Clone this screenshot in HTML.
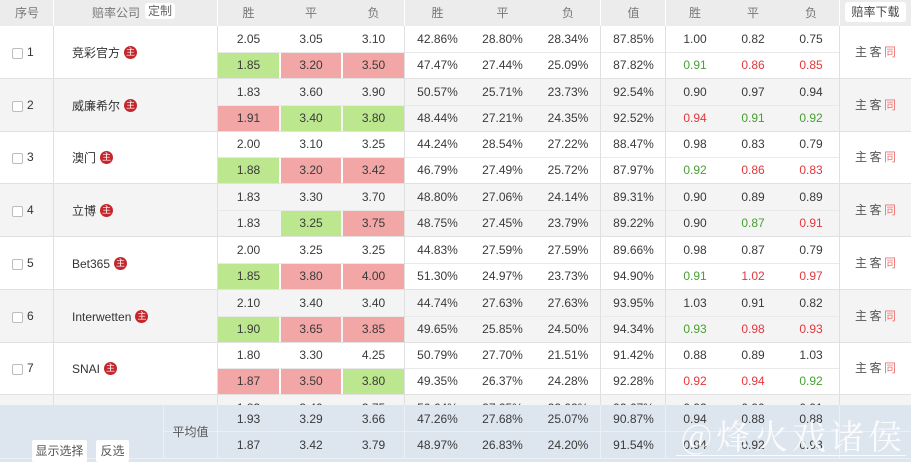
<!DOCTYPE html>
<html><head><meta charset="utf-8">
<style>
*{margin:0;padding:0;box-sizing:border-box}
html,body{width:911px;height:462px;overflow:hidden;background:#fff}
body{position:relative;font-family:"Liberation Sans","Noto Sans CJK SC",sans-serif;font-size:12px;color:#3a3a3a}
.hd{position:absolute;left:0;top:0;width:911px;height:26px;background:#ececec;color:#777}
.hd div{position:absolute;top:0;height:26px;line-height:26px;text-align:center}
.vl{position:absolute;width:1px;background:#fff}
.btn{position:absolute;background:#fff;border-radius:3px;text-align:center;color:#555}
.g{position:absolute;left:0;width:911px;height:53px;border-bottom:1px solid #e1e1e1}
.g.e{background:#f4f4f4}
.g .sl{position:absolute;left:218px;width:622px;top:26px;height:1px;background:#e9e9e9}
.g .v{position:absolute;top:0;bottom:0;width:1px;background:#e0e0e0}
.g .c{position:absolute;text-align:center}
.a{top:0;height:26px;line-height:27px}
.b{top:27px;height:25px;line-height:25px}
.c1{left:218px;width:61px}.c2{left:281px;width:60px}.c3{left:343px;width:61px}
.p1{left:405px;width:65px}.p2{left:470px;width:65px}.p3{left:535px;width:66px}.p4{left:601px;width:65px}
.k1{left:666px;width:58px}.k2{left:724px;width:58px}.k3{left:782px;width:58px}
.G{background:#bce78f}.R{background:#f3a6a6}
.tg{color:#46a031}.tr{color:#e2383d}
.cb{position:absolute;left:12px;top:22px;width:11px;height:11px;border:1px solid #bdbdbd;border-radius:2px;background:#fff}
.no{position:absolute;left:27px;top:19px;line-height:14px;color:#333}
.nm{position:absolute;left:72px;top:0;height:53px;display:flex;align-items:center;color:#333}
.bd{display:inline-block;width:13px;height:13px;border-radius:50%;background:#c4262b;color:#fff;font-size:9px;line-height:13px;text-align:center;font-style:normal;margin-left:4px}
.zk{position:absolute;left:855px;top:0;height:53px;line-height:53px;color:#555;letter-spacing:2.5px}
.zk span{color:#ef7474}
.ft{position:absolute;left:0;top:405px;width:911px;height:57px;background:#dde5ee;z-index:5}
.ft .fv{position:absolute;top:0;height:53px;width:1px;background:#ebf0f5}
.ft .fh{position:absolute;left:163px;width:748px;height:1px;background:#ebf0f5}
.ft .c{position:absolute;text-align:center}
.ft .a{top:0;height:26px;line-height:28px}
.ft .b{top:27px;height:26px;line-height:26px}
.wm{position:absolute;left:681px;top:414px;width:230px;height:42px;z-index:9;color:rgba(255,255,255,0.85);font-family:"Noto Serif CJK SC","WenQuanYi Zen Hei",serif;font-size:34px;line-height:42px;letter-spacing:4px;white-space:nowrap}
.wl{position:absolute;left:676px;top:455px;width:230px;height:1px;background:rgba(255,255,255,0.85);z-index:9}
</style></head><body>

<div class="hd">
<div style="left:0;width:54px">序号</div>
<div style="left:86px;width:60px">赔率公司</div>
<div class="btn" style="left:145px;top:3px;width:30px;height:16px;line-height:16px;color:#666">定制</div>
<div style="left:218px;width:61px">胜</div>
<div style="left:281px;width:60px">平</div>
<div style="left:343px;width:61px">负</div>
<div style="left:405px;width:65px">胜</div>
<div style="left:470px;width:65px">平</div>
<div style="left:535px;width:66px">负</div>
<div style="left:601px;width:65px">值</div>
<div style="left:666px;width:58px">胜</div>
<div style="left:724px;width:58px">平</div>
<div style="left:782px;width:58px">负</div>
<div class="btn" style="left:845px;top:2px;width:61px;height:20px;line-height:20px;color:#444">赔率下载</div>
<span class="vl" style="left:53px;top:0;height:26px"></span>
<span class="vl" style="left:217px;top:0;height:26px"></span>
<span class="vl" style="left:404px;top:0;height:26px"></span>
<span class="vl" style="left:600px;top:0;height:26px"></span>
<span class="vl" style="left:665px;top:0;height:26px"></span>
<span class="vl" style="left:839px;top:0;height:26px"></span>
</div>

<!-- group 1 -->
<div class="g" style="top:26px">
<span class="sl"></span><span class="v" style="left:53px"></span><span class="v" style="left:217px"></span><span class="v" style="left:404px"></span><span class="v" style="left:600px"></span><span class="v" style="left:665px"></span><span class="v" style="left:839px"></span>
<span class="cb"></span><span class="no">1</span><span class="nm">竞彩官方<i class="bd">主</i></span>
<div class="c a c1">2.05</div><div class="c a c2">3.05</div><div class="c a c3">3.10</div>
<div class="c b c1 G">1.85</div><div class="c b c2 R">3.20</div><div class="c b c3 R">3.50</div>
<div class="c a p1">42.86%</div><div class="c a p2">28.80%</div><div class="c a p3">28.34%</div><div class="c a p4">87.85%</div>
<div class="c b p1">47.47%</div><div class="c b p2">27.44%</div><div class="c b p3">25.09%</div><div class="c b p4">87.82%</div>
<div class="c a k1">1.00</div><div class="c a k2">0.82</div><div class="c a k3">0.75</div>
<div class="c b k1 tg">0.91</div><div class="c b k2 tr">0.86</div><div class="c b k3 tr">0.85</div>
<span class="zk">主客<span>同</span></span>
</div>

<!-- group 2 -->
<div class="g e" style="top:79px">
<span class="sl"></span><span class="v" style="left:53px"></span><span class="v" style="left:217px"></span><span class="v" style="left:404px"></span><span class="v" style="left:600px"></span><span class="v" style="left:665px"></span><span class="v" style="left:839px"></span>
<span class="cb"></span><span class="no">2</span><span class="nm">威廉希尔<i class="bd">主</i></span>
<div class="c a c1">1.83</div><div class="c a c2">3.60</div><div class="c a c3">3.90</div>
<div class="c b c1 R">1.91</div><div class="c b c2 G">3.40</div><div class="c b c3 G">3.80</div>
<div class="c a p1">50.57%</div><div class="c a p2">25.71%</div><div class="c a p3">23.73%</div><div class="c a p4">92.54%</div>
<div class="c b p1">48.44%</div><div class="c b p2">27.21%</div><div class="c b p3">24.35%</div><div class="c b p4">92.52%</div>
<div class="c a k1">0.90</div><div class="c a k2">0.97</div><div class="c a k3">0.94</div>
<div class="c b k1 tr">0.94</div><div class="c b k2 tg">0.91</div><div class="c b k3 tg">0.92</div>
<span class="zk">主客<span>同</span></span>
</div>

<!-- group 3 -->
<div class="g" style="top:131px">
<span class="sl"></span><span class="v" style="left:53px"></span><span class="v" style="left:217px"></span><span class="v" style="left:404px"></span><span class="v" style="left:600px"></span><span class="v" style="left:665px"></span><span class="v" style="left:839px"></span>
<span class="cb"></span><span class="no">3</span><span class="nm">澳门<i class="bd">主</i></span>
<div class="c a c1">2.00</div><div class="c a c2">3.10</div><div class="c a c3">3.25</div>
<div class="c b c1 G">1.88</div><div class="c b c2 R">3.20</div><div class="c b c3 R">3.42</div>
<div class="c a p1">44.24%</div><div class="c a p2">28.54%</div><div class="c a p3">27.22%</div><div class="c a p4">88.47%</div>
<div class="c b p1">46.79%</div><div class="c b p2">27.49%</div><div class="c b p3">25.72%</div><div class="c b p4">87.97%</div>
<div class="c a k1">0.98</div><div class="c a k2">0.83</div><div class="c a k3">0.79</div>
<div class="c b k1 tg">0.92</div><div class="c b k2 tr">0.86</div><div class="c b k3 tr">0.83</div>
<span class="zk">主客<span>同</span></span>
</div>

<!-- group 4 -->
<div class="g e" style="top:184px">
<span class="sl"></span><span class="v" style="left:53px"></span><span class="v" style="left:217px"></span><span class="v" style="left:404px"></span><span class="v" style="left:600px"></span><span class="v" style="left:665px"></span><span class="v" style="left:839px"></span>
<span class="cb"></span><span class="no">4</span><span class="nm">立博<i class="bd">主</i></span>
<div class="c a c1">1.83</div><div class="c a c2">3.30</div><div class="c a c3">3.70</div>
<div class="c b c1">1.83</div><div class="c b c2 G">3.25</div><div class="c b c3 R">3.75</div>
<div class="c a p1">48.80%</div><div class="c a p2">27.06%</div><div class="c a p3">24.14%</div><div class="c a p4">89.31%</div>
<div class="c b p1">48.75%</div><div class="c b p2">27.45%</div><div class="c b p3">23.79%</div><div class="c b p4">89.22%</div>
<div class="c a k1">0.90</div><div class="c a k2">0.89</div><div class="c a k3">0.89</div>
<div class="c b k1">0.90</div><div class="c b k2 tg">0.87</div><div class="c b k3 tr">0.91</div>
<span class="zk">主客<span>同</span></span>
</div>

<!-- group 5 -->
<div class="g" style="top:237px">
<span class="sl"></span><span class="v" style="left:53px"></span><span class="v" style="left:217px"></span><span class="v" style="left:404px"></span><span class="v" style="left:600px"></span><span class="v" style="left:665px"></span><span class="v" style="left:839px"></span>
<span class="cb"></span><span class="no">5</span><span class="nm">Bet365<i class="bd">主</i></span>
<div class="c a c1">2.00</div><div class="c a c2">3.25</div><div class="c a c3">3.25</div>
<div class="c b c1 G">1.85</div><div class="c b c2 R">3.80</div><div class="c b c3 R">4.00</div>
<div class="c a p1">44.83%</div><div class="c a p2">27.59%</div><div class="c a p3">27.59%</div><div class="c a p4">89.66%</div>
<div class="c b p1">51.30%</div><div class="c b p2">24.97%</div><div class="c b p3">23.73%</div><div class="c b p4">94.90%</div>
<div class="c a k1">0.98</div><div class="c a k2">0.87</div><div class="c a k3">0.79</div>
<div class="c b k1 tg">0.91</div><div class="c b k2 tr">1.02</div><div class="c b k3 tr">0.97</div>
<span class="zk">主客<span>同</span></span>
</div>

<!-- group 6 -->
<div class="g e" style="top:290px">
<span class="sl"></span><span class="v" style="left:53px"></span><span class="v" style="left:217px"></span><span class="v" style="left:404px"></span><span class="v" style="left:600px"></span><span class="v" style="left:665px"></span><span class="v" style="left:839px"></span>
<span class="cb"></span><span class="no">6</span><span class="nm">Interwetten<i class="bd">主</i></span>
<div class="c a c1">2.10</div><div class="c a c2">3.40</div><div class="c a c3">3.40</div>
<div class="c b c1 G">1.90</div><div class="c b c2 R">3.65</div><div class="c b c3 R">3.85</div>
<div class="c a p1">44.74%</div><div class="c a p2">27.63%</div><div class="c a p3">27.63%</div><div class="c a p4">93.95%</div>
<div class="c b p1">49.65%</div><div class="c b p2">25.85%</div><div class="c b p3">24.50%</div><div class="c b p4">94.34%</div>
<div class="c a k1">1.03</div><div class="c a k2">0.91</div><div class="c a k3">0.82</div>
<div class="c b k1 tg">0.93</div><div class="c b k2 tr">0.98</div><div class="c b k3 tr">0.93</div>
<span class="zk">主客<span>同</span></span>
</div>

<!-- group 7 -->
<div class="g" style="top:342px">
<span class="sl"></span><span class="v" style="left:53px"></span><span class="v" style="left:217px"></span><span class="v" style="left:404px"></span><span class="v" style="left:600px"></span><span class="v" style="left:665px"></span><span class="v" style="left:839px"></span>
<span class="cb"></span><span class="no">7</span><span class="nm">SNAI<i class="bd">主</i></span>
<div class="c a c1">1.80</div><div class="c a c2">3.30</div><div class="c a c3">4.25</div>
<div class="c b c1 R">1.87</div><div class="c b c2 R">3.50</div><div class="c b c3 G">3.80</div>
<div class="c a p1">50.79%</div><div class="c a p2">27.70%</div><div class="c a p3">21.51%</div><div class="c a p4">91.42%</div>
<div class="c b p1">49.35%</div><div class="c b p2">26.37%</div><div class="c b p3">24.28%</div><div class="c b p4">92.28%</div>
<div class="c a k1">0.88</div><div class="c a k2">0.89</div><div class="c a k3">1.03</div>
<div class="c b k1 tr">0.92</div><div class="c b k2 tr">0.94</div><div class="c b k3 tg">0.92</div>
<span class="zk">主客<span>同</span></span>
</div>

<!-- group 8 (partially hidden) -->
<div class="g e" style="top:395px">
<span class="v" style="left:53px"></span><span class="v" style="left:217px"></span><span class="v" style="left:404px"></span><span class="v" style="left:600px"></span><span class="v" style="left:665px"></span><span class="v" style="left:839px"></span>
<div class="c a c1">1.83</div><div class="c a c2">3.40</div><div class="c a c3">3.75</div>
<div class="c a p1">50.64%</div><div class="c a p2">27.25%</div><div class="c a p3">22.02%</div><div class="c a p4">92.67%</div>
<div class="c a k1">0.92</div><div class="c a k2">0.90</div><div class="c a k3">0.91</div>
</div>

<!-- footer -->
<div class="ft">
<span class="fv" style="left:163px"></span><span class="fv" style="left:217px"></span><span class="fv" style="left:404px"></span><span class="fv" style="left:600px"></span><span class="fv" style="left:665px"></span><span class="fv" style="left:839px"></span>
<span class="fh" style="top:26px"></span><span class="fh" style="top:53px;left:0;width:911px"></span>
<div style="position:absolute;left:163px;width:55px;top:0;height:53px;line-height:54px;text-align:center;color:#555">平均值</div>
<div class="btn" style="left:32px;top:35px;width:55px;height:22px;line-height:22px;border-radius:2px">显示选择</div>
<div class="btn" style="left:96px;top:35px;width:33px;height:22px;line-height:22px;border-radius:2px">反选</div>
<div class="c a c1">1.93</div><div class="c a c2">3.29</div><div class="c a c3">3.66</div>
<div class="c b c1">1.87</div><div class="c b c2">3.42</div><div class="c b c3">3.79</div>
<div class="c a p1">47.26%</div><div class="c a p2">27.68%</div><div class="c a p3">25.07%</div><div class="c a p4">90.87%</div>
<div class="c b p1">48.97%</div><div class="c b p2">26.83%</div><div class="c b p3">24.20%</div><div class="c b p4">91.54%</div>
<div class="c a k1">0.94</div><div class="c a k2">0.88</div><div class="c a k3">0.88</div>
<div class="c b k1">0.94</div><div class="c b k2">0.92</div><div class="c b k3">0.93</div>
</div>

<div class="wm">@烽火戏诸侯</div>
<div class="wl"></div>
</body></html>
